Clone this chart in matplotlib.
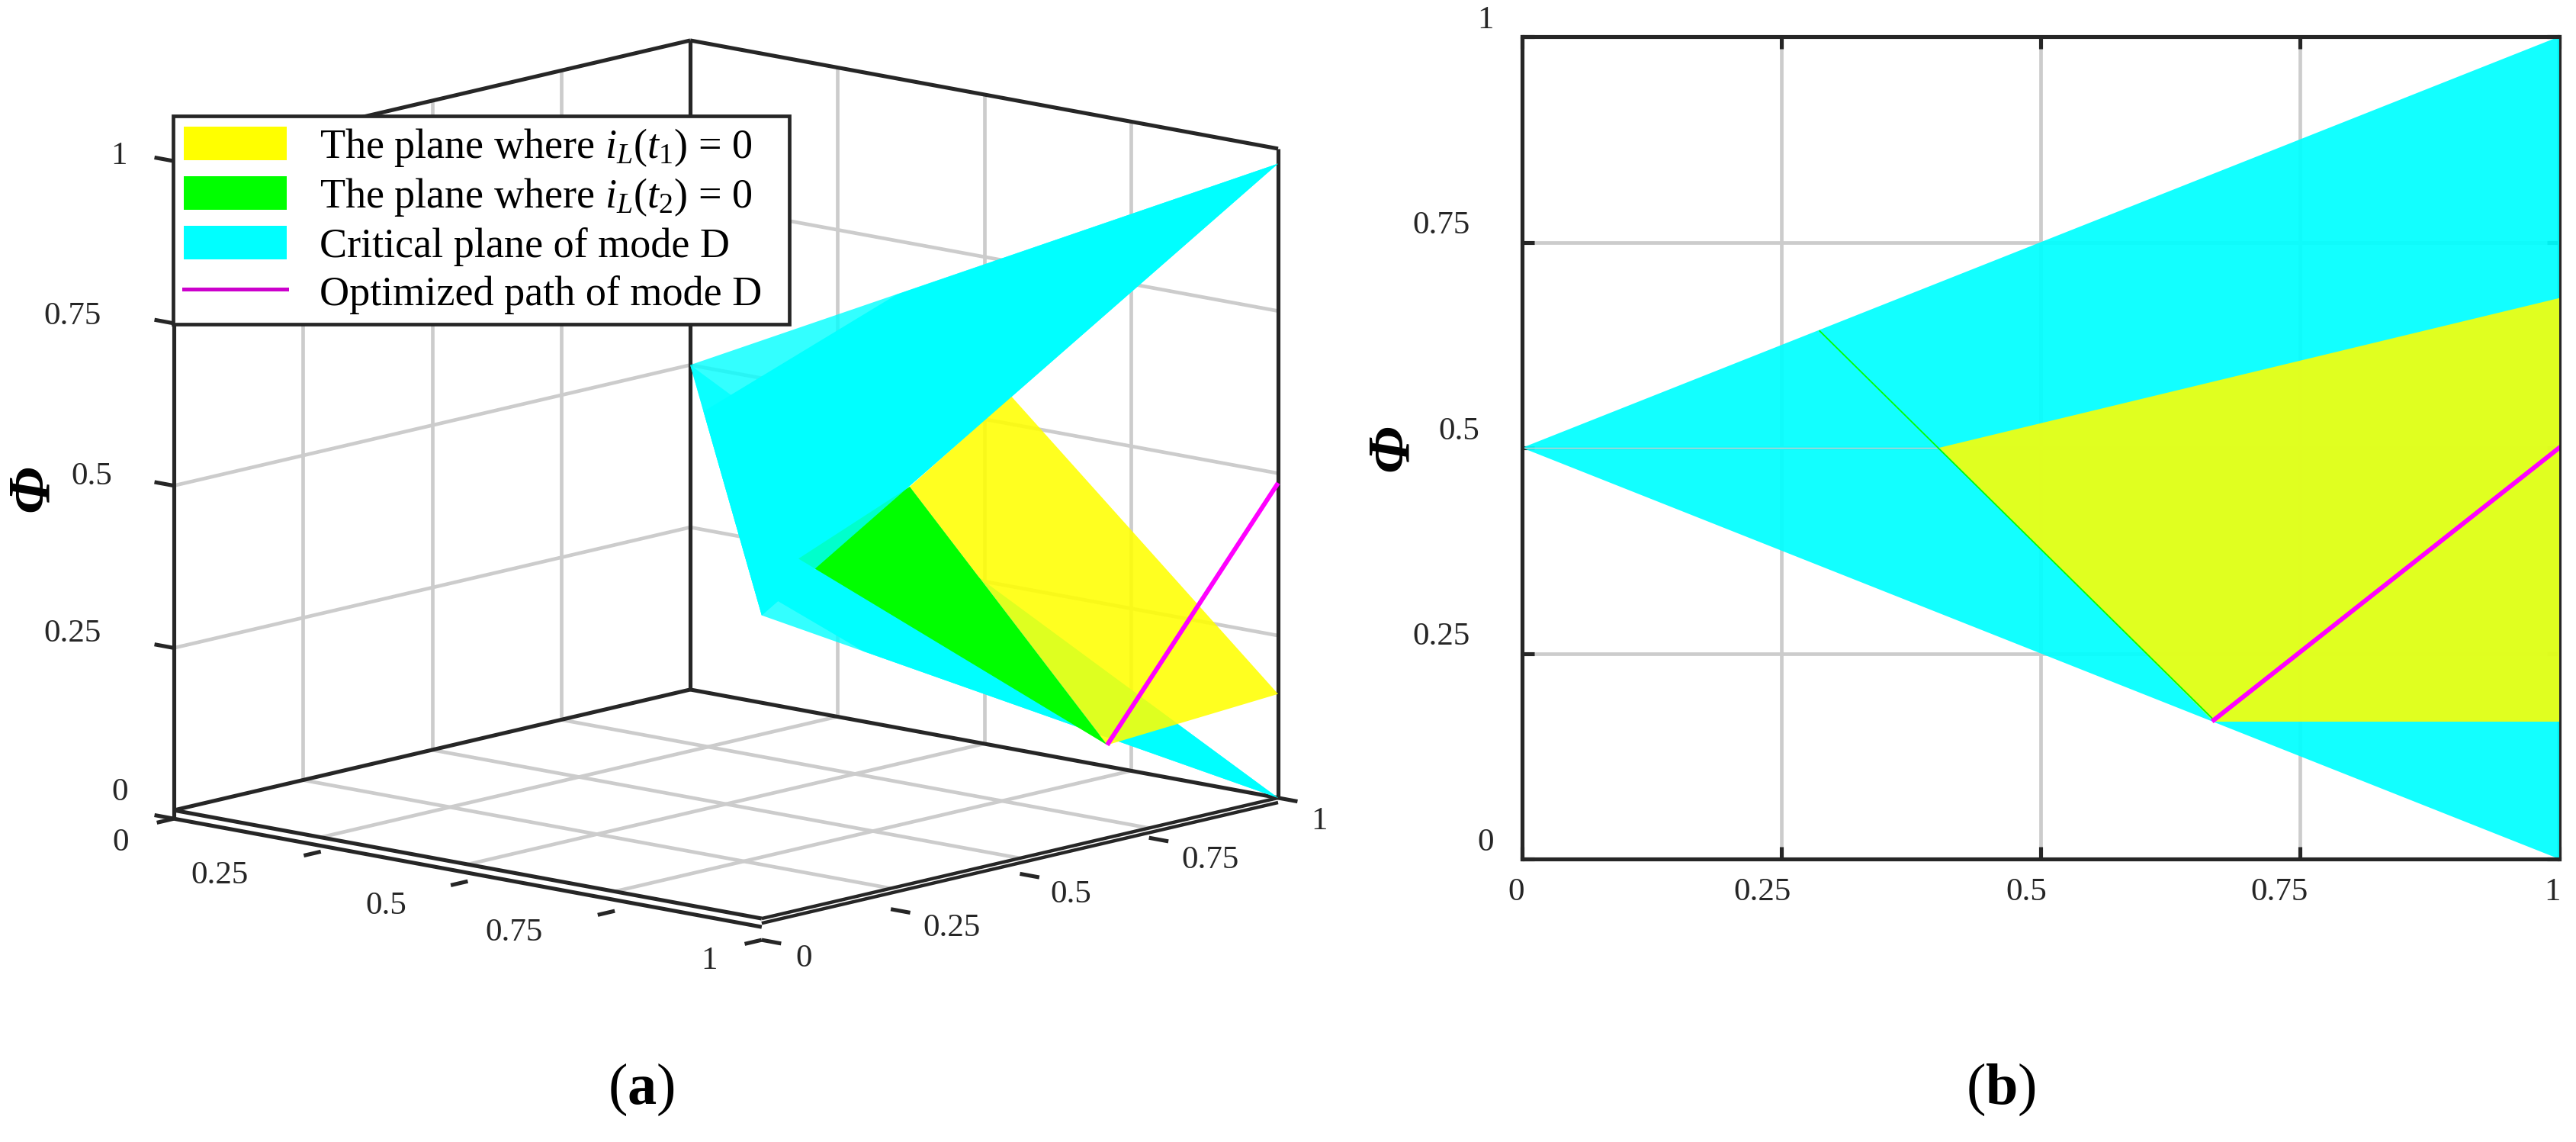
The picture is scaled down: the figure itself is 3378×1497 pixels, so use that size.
import numpy as np
import matplotlib
matplotlib.use("Agg")
import matplotlib.pyplot as plt
from matplotlib.lines import Line2D
from matplotlib.patches import Patch
from matplotlib.transforms import ScaledTranslation
from mpl_toolkits.mplot3d import proj3d
from mpl_toolkits.mplot3d.art3d import Poly3DCollection

plt.rcParams['font.family'] = ['Liberation Serif', 'DejaVu Serif']
plt.rcParams['mathtext.fontset'] = 'custom'
plt.rcParams['mathtext.rm'] = 'Liberation Serif'
plt.rcParams['mathtext.it'] = 'Liberation Serif:italic'
plt.rcParams['mathtext.bf'] = 'Liberation Serif:bold'

# ---- data -----------------------------------------------------------------
tick_values = [0, 0.25, 0.5, 0.75, 1]
tick_labels = ['0', '0.25', '0.5', '0.75', '1']

# panel (a): (x, y, phi) vertices
critical_upper = [(0, 1, 0.5), (1, 1, 0.977), (1, 0, 0.467)]
critical_upper_dense = [(0.186, 0.814, 0.494), (0.351, 1, 0.667), (1, 1, 0.977), (1, 0, 0.467)]
critical_lower = [(0, 1, 0.5), (1, 1, 0), (1, 0, 0.467)]
critical_lower_dense = [(1, 1, 0), (0.4, 1, 0.3), (0.887, 0.113, 0.471), (1, 0.197, 0.375)]
plane_t1 = [(1, 1, 0.16), (1, 0.669, 0.143), (1, 0.2866, 0.612), (0.546, 1, 0.543)]
plane_t2 = [(1, 0.669, 0.143), (1, 0.2866, 0.612), (0.672, 0.4445, 0.417)]
path_x = [1, 1]
path_y = [0.669, 1]
path_z = [0.143, 0.485]

# panel (b): (x, phi) vertices
b_critical = [(0, 0.5), (1, 1), (1, 0)]
b_plane_t1 = [(0.402, 0.5), (1, 0.682), (1, 0.167), (0.667, 0.167)]
b_plane_t2_x = [0.287, 0.667]
b_plane_t2_y = [0.642, 0.169]
b_path_x = [0.667, 1]
b_path_y = [0.169, 0.5]

legend_labels = [r'The plane where $i_L(t_1)$ = 0', r'The plane where $i_L(t_2)$ = 0',
                 'Critical plane of mode D', 'Optimized path of mode D']

# ---- styles ---------------------------------------------------------------
W, H = 3378, 1497
DARK = '#262626'
GRID = '#cccccc'
CYAN = '#00ffff'
YELLOW = '#ffff00'
GREEN = '#00ff00'
MAGENTA = '#ff00ff'
LW_BOX = 3.7
LW_GRID = 3.4
TICK_FS = 31

fig = plt.figure(figsize=(W / 100, H / 100), dpi=100)
fig.patch.set_facecolor('white')


def ptext(px, py, s, **kw):
    kw.setdefault('ha', 'center')
    kw.setdefault('va', 'center')
    return fig.text(px / W, 1 - py / H, s, **kw)


# ---- panel (a) ------------------------------------------------------------
ax3 = fig.add_axes([0.0, 0.0, 1400 / W, 1400 / H], projection='3d', computed_zorder=False)
ax3.set_proj_type('ortho')
ax3.set_box_aspect((1031, 1020, 870))
ax3.view_init(elev=11.97, azim=-48.4, roll=0)
ax3.set_xlim(0, 1, view_margin=0)
ax3.set_ylim(0, 1, view_margin=0)
ax3.set_zlim(0, 1, view_margin=0)
ax3.set_axis_off()
ax3.patch.set_visible(False)


def line3(xs, ys, zs, color=DARK, lw=LW_BOX, z=2, **kw):
    ax3.plot(xs, ys, zs, color=color, lw=lw, zorder=z, solid_capstyle=kw.pop('cap', 'butt'), **kw)


def poly3(verts, color, alpha, z):
    pc = Poly3DCollection([verts], facecolors=color, edgecolors='none', alpha=alpha, zorder=z)
    ax3.add_collection3d(pc, autolim=False)


inner = tick_values[1:-1]
for v in inner:
    line3([0, 0], [v, v], [0, 1], GRID, LW_GRID, 1)   # wall x = 0
    line3([v, v], [1, 1], [0, 1], GRID, LW_GRID, 1)   # wall y = 1
    line3([0, 0], [0, 1], [v, v], GRID, LW_GRID, 1)
    line3([0, 1], [1, 1], [v, v], GRID, LW_GRID, 1)
    line3([v, v], [0, 1], [0, 0], GRID, LW_GRID, 1)   # floor
    line3([0, 1], [v, v], [0, 0], GRID, LW_GRID, 1)

# box
line3([0, 0], [0, 0], [-0.013, 1])
line3([0, 0], [1, 1], [0, 1])
line3([1, 1], [1, 1], [0, 1])
line3([0, 0], [0, 1], [1, 1])
line3([0, 1], [1, 1], [1, 1])
line3([0, 1], [0, 0], [0, 0])
line3([0, 0], [0, 1], [0, 0])
line3([0, 1], [1, 1], [0, 0])
line3([1, 1], [0, 1], [0, 0], lw=3.2)
line3([0, 1], [0, 0], [-0.013, -0.013])     # second x axis line
line3([1, 1], [0, 1], [-0.0072, -0.0072], lw=3.2)   # second y axis line

# ticks
TL = 0.033
x_gap = [0.013, 0.022, 0.026, 0.030, 0.033]
y_gap = [0.033, 0.032, 0.024, 0.015, 0.0]
for v, g in zip(tick_values, x_gap):
    line3([v, v], [0, -TL], [-g, -g])
for v, g in zip(tick_values, y_gap):
    line3([1, 1 + TL], [v, v], [-g, -g])
for v in tick_values:
    line3([0, -TL], [0, 0], [v - 0.013 if v == 0 else v] * 2)

# surfaces, back to front
poly3(critical_upper, CYAN, 0.8, 3)
poly3(critical_lower, CYAN, 0.8, 3.1)
poly3(critical_lower_dense, CYAN, 1.0, 3.2)
poly3(plane_t1, YELLOW, 0.875, 4)
poly3(plane_t2, GREEN, 1.0, 4.1)
poly3(critical_upper_dense, CYAN, 1.0, 5)
poly3(plane_t2, GREEN, 0.2, 5.1)
line3(path_x, path_y, path_z, MAGENTA, 4.3, 6)

# place the 3D box on the page
targets = {(0, 0, 0): (228, H - 1062), (1, 1, 0): (1676, H - 1046)}
for _ in range(4):
    fig.canvas.draw()
    M = ax3.get_proj()
    pts = []
    for p in targets:
        a, b, _z = proj3d.proj_transform(p[0], p[1], p[2], M)
        pts.append(ax3.transData.transform((float(a), float(b))))
    pts = np.array(pts)
    tg = np.array(list(targets.values()), float)
    scale = (tg[1, 0] - tg[0, 0]) / (pts[1, 0] - pts[0, 0])
    pos = ax3.get_position()
    S = pos.width * W * scale
    cx = pos.x0 * W + pos.width * W / 2
    cy = pos.y0 * H + pos.height * H / 2
    new_pts = (pts - [cx, cy]) * scale
    shift = tg.mean(axis=0) - new_pts.mean(axis=0)
    ax3.set_position([(shift[0] - S / 2) / W, (shift[1] - S / 2) / H, S / W, S / H])
fig.canvas.draw()

z_label_pos = [(157, 1039), (95, 831), (120, 625), (95, 415), (156, 205)]
x_label_pos = [(158, 1105), (288, 1148), (506, 1188), (674, 1223), (930, 1260)]
y_label_pos = [(1054, 1257), (1248, 1217), (1404, 1173), (1587, 1128), (1730, 1077)]
for lab, p in zip(tick_labels, z_label_pos):
    ptext(*p, lab, fontsize=TICK_FS, color=DARK)
for lab, p in zip(tick_labels, x_label_pos):
    ptext(*p, lab, fontsize=TICK_FS, color=DARK)
for lab, p in zip(tick_labels, y_label_pos):
    ptext(*p, lab, fontsize=TICK_FS, color=DARK)

ptext(43, 640, 'Φ', fontsize=56, fontstyle='italic', fontweight='bold', rotation=90, color='black')
ptext(841, 1428, r'($\mathbf{a}$)', fontsize=55, color='black')

handles = [Patch(facecolor=YELLOW, edgecolor='none'), Patch(facecolor=GREEN, edgecolor='none'),
           Patch(facecolor=CYAN, edgecolor='none'), Line2D([0], [0], color='#cc00cc', lw=3.6)]
leg = fig.legend(handles, legend_labels, loc='upper left',
                 bbox_to_anchor=(227 / W, 1 - 427 / H, 808 / W, 275 / H), mode='expand',
                 borderaxespad=0, fontsize=39, frameon=True, fancybox=False, framealpha=1,
                 edgecolor=DARK, borderpad=0.25, labelspacing=0.19, handlelength=2.5,
                 handleheight=0.87, handletextpad=0.8)
leg.get_frame().set_linewidth(3.4)
leg.set_zorder(10)

# ---- panel (b) ------------------------------------------------------------
L, R, T, B = 1996, 3356, 48, 1126
ax = fig.add_axes([L / W, 1 - B / H, (R - L) / W, (B - T) / H])
ax.set_xlim(0, 1)
ax.set_ylim(0, 1)
ax.set_xticks(tick_values)
ax.set_yticks(tick_values)
ax.set_xticklabels(tick_labels)
ax.set_yticklabels(tick_labels)
ax.set_axisbelow(True)
ax.grid(True, color=GRID, lw=LW_GRID)
ax.tick_params(direction='in', length=11.5, width=LW_BOX, color=DARK, labelcolor=DARK,
               labelsize=TICK_FS, top=True, right=True, pad=0)
for sp in ax.spines.values():
    sp.set_linewidth(LW_BOX)
    sp.set_color(DARK)
ax.spines['right'].set_zorder(0.8)

cx_, cy_ = zip(*b_critical)
ax.fill(cx_, cy_, color=CYAN, alpha=0.93, lw=0, zorder=1.5)
yx, yy = zip(*b_plane_t1)
ax.fill(yx, yy, color=YELLOW, alpha=0.875, lw=0, zorder=1.6)
ax.plot([0, b_plane_t1[0][0]], [0.5, 0.5], color=GRID, lw=1.0, zorder=1.7)
ax.plot(b_plane_t2_x, b_plane_t2_y, color=GREEN, lw=1.3, zorder=1.8)
ax.plot(b_path_x, b_path_y, color=MAGENTA, lw=4.3, zorder=1.9, clip_on=True)

x_off = [-8, -25, -19, -27, -9]
for lbl, dx in zip(ax.get_xticklabels(), x_off):
    lbl.set_transform(lbl.get_transform() + ScaledTranslation(dx / 100, -25 / 100, fig.dpi_scale_trans))
y_off = [-37, -68, -56, -68, -37]
for lbl, dx in zip(ax.get_yticklabels(), y_off):
    lbl.set_transform(lbl.get_transform() + ScaledTranslation(dx / 100, 26 / 100, fig.dpi_scale_trans))

ptext(1826, 587, 'Φ', fontsize=56, fontstyle='italic', fontweight='bold', rotation=90, color='black')
ptext(2624, 1428, r'($\mathbf{b}$)', fontsize=55, color='black')

fig.savefig('out.png', dpi=100, facecolor='white')
